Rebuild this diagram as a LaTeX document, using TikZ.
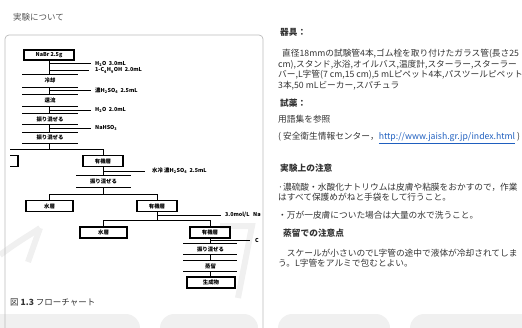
\documentclass[tikz,border=0pt]{standalone}
\usepackage{fontspec}
\setmainfont{Noto Sans CJK JP}
\newcommand\flfont{\fontsize{5.4}{6}\selectfont\bfseries}
\newcommand\bodyfont{\fontsize{8.7}{10.5}\selectfont}
\definecolor{txt}{HTML}{333333}
\definecolor{ttl}{HTML}{555555}
\definecolor{urlc}{HTML}{1F5FBF}
\definecolor{wm}{HTML}{F0F0F0}
\definecolor{frm}{HTML}{BBBBBB}
\begin{document}
\begin{tikzpicture}[x=1pt,y=-1pt,
  fl/.style={line width=1pt},
  fbox/.style={draw,line width=1.2pt,inner sep=0pt,minimum height=11pt,font=\flfont},
  opl/.style={font=\flfont,inner sep=0pt},
  addl/.style={font=\flfont,anchor=west,inner sep=0pt},
  body/.style={font=\bodyfont,text=txt,anchor=west,inner sep=0pt},
  head/.style={font=\bodyfont\bfseries,text=txt,anchor=west,inner sep=0pt}
]
\useasboundingbox (0,0) rectangle (522,327);
% watermark
\fill[wm,rounded corners=14pt] (-20,314) rectangle (140,360);
\fill[wm,rounded corners=14pt] (160,314) rectangle (258,360);
\fill[wm,rounded corners=14pt] (278,314) rectangle (390,360);
\fill[wm,rounded corners=14pt] (410,314) rectangle (540,360);
\draw[wm,line width=6pt] (0,255) .. controls (20,240) and (30,235) .. (40,228);
\draw[wm,line width=6pt] (40,228) -- (28,262);
\draw[wm,line width=6pt] (220,226) -- (252,226) -- (238,298);
% frame
\draw[frm,line width=0.7pt,rounded corners=4pt] (5,340) -- (5,35) -- (263,35) -- (263,340);
% title
\node[font=\fontsize{8.5}{10}\selectfont,text=ttl,anchor=west,inner sep=0pt] (title) at (13,17) {実験について};
% flowchart
\begin{scope}
\clip (10,36) rectangle (260,327);
\node[fbox,minimum width=50pt,minimum height=10pt] (nabr) at (49,55) {NaBr\ 2.5g};
\coordinate (j1) at (49,63.5);
\coordinate (j2) at (49,70.5);
\node[addl] (a1) at (95,63.5) {H\textsubscript{2}O\ \ 3.0mL};
\node[addl] (a2) at (95,70.5) {1-C\textsubscript{4}H\textsubscript{9}OH\ \ 2.0mL};
\draw[fl] (j1) -- ++(42,0);
\draw[fl] (j2) -- ++(40,0);
% op1
\coordinate (b1t) at (49,74); \coordinate (b1b) at (49,87);
\draw[fl] (22,74) -- (78,74); \draw[fl] (22,87) -- (78,87);
\node[opl] (o1) at (50,80.5) {冷却};
\draw[fl] (nabr.south) -- (b1t);
\coordinate (j3) at (49,90.5);
\node[addl] (a3) at (95,90.5) {濃H\textsubscript{2}SO\textsubscript{4}\ \ 2.5mL};
\draw[fl] (j3) -- ++(42,0);
% op2
\coordinate (b2t) at (49,94); \coordinate (b2b) at (49,106);
\draw[fl] (22,94) -- (78,94); \draw[fl] (22,106) -- (78,106);
\node[opl] (o2) at (50,100) {還流};
\draw[fl] (b1b) -- (b2t);
\coordinate (j4) at (49,110);
\node[addl] (a4) at (95,110) {H\textsubscript{2}O\ \ 2.0mL};
\draw[fl] (j4) -- ++(42,0);
% op3
\coordinate (b3t) at (49,113); \coordinate (b3b) at (49,124);
\draw[fl] (22,113) -- (78,113); \draw[fl] (22,124) -- (78,124);
\node[opl] (o3) at (50,119) {振り混ぜる};
\draw[fl] (b2b) -- (b3t);
\coordinate (j5) at (49,128);
\node[addl] (a5) at (95,128) {NaHSO\textsubscript{3}};
\draw[fl] (j5) -- ++(42,0);
% op4
\coordinate (b4t) at (49,132); \coordinate (b4b) at (49,143);
\draw[fl] (22,132) -- (78,132); \draw[fl] (22,143) -- (78,143);
\node[opl] (o4) at (50,137.5) {振り混ぜる};
\draw[fl] (b3b) -- (b4t);
% split 1
\node[fbox,minimum width=40pt] (w0) at (-2,161) {};
\node[fbox,minimum width=40pt] (org1) at (103,161) {有機層};
\draw[fl] (b4b) -- (49,149);
\draw[fl] (w0.north) -- (w0.north |- 0,149) -- (org1.north |- 0,149) -- (org1.north);
\coordinate (j6) at (103,171);
\node[addl] (a6) at (152,171) {水冷 濃H\textsubscript{2}SO\textsubscript{4}\ \ 2.5mL};
\draw[fl] (j6) -- (145,171);
% op5
\coordinate (b5t) at (103,175); \coordinate (b5b) at (103,187);
\draw[fl] (76,175) -- (131,175); \draw[fl] (76,187) -- (131,187);
\node[opl] (o5) at (103.5,181) {振り混ぜる};
\draw[fl] (org1.south) -- (b5t);
% split 2
\node[fbox,minimum width=47pt] (w1) at (49.5,206) {水層};
\node[fbox,minimum width=40pt] (org2) at (157,206) {有機層};
\draw[fl] (b5b) -- (103,194);
\draw[fl] (w1.north) -- (w1.north |- 0,194) -- (org2.north |- 0,194) -- (org2.north);
\coordinate (j7) at (157,215);
\node[addl] (a7) at (225,215) {3.0mol/L\ \ \ NaOH};
\draw[fl] (j7) -- (221,215);
% split 3
\node[fbox,minimum width=47pt] (w2) at (103.5,232.5) {水層};
\node[fbox,minimum width=40pt] (org3) at (210,232.5) {有機層};
\draw[fl] (org2.south) -- (157,220);
\draw[fl] (w2.north) -- (w2.north |- 0,220) -- (org3.north |- 0,220) -- (org3.north);
\coordinate (j8) at (210,240.5);
\node[addl] (a8) at (255,240.5) {C};
\draw[fl] (j8) -- (250,240.5);
% op6
\coordinate (b6t) at (210,243); \coordinate (b6b) at (210,254.5);
\draw[fl] (183,243) -- (237,243); \draw[fl] (183,254.5) -- (237,254.5);
\node[opl] (o6) at (210.5,249) {振り混ぜる};
\draw[fl] (org3.south) -- (b6t);
% op7
\coordinate (b7t) at (210,260); \coordinate (b7b) at (210,271);
\draw[fl] (183,260) -- (237,260); \draw[fl] (183,271) -- (237,271);
\node[opl] (o7) at (210.5,266) {蒸留};
\draw[fl] (b6b) -- (b7t);
\node[fbox,minimum width=48pt] (prod) at (211,282.5) {生成物};
\draw[fl] (b7b) -- (prod.north -| b7b);
\end{scope}
% caption
\node[font=\fontsize{8.5}{10}\selectfont,text=txt,anchor=west,inner sep=0pt] (cap) at (10,303) {図 \textbf{1.3} フローチャート};
% right column
\node[head] (h1) at (280,32) {器具：};
\node[body] (p1) at (282,54) {直径18mmの試験管4本,ゴム栓を取り付けたガラス管(長さ25};
\node[body] (p2) at (278,64.5) {cm),スタンド,氷浴,オイルバス,温度計,スターラー,スターラー};
\node[body] (p3) at (278,75) {バー,L字管(7 cm,15 cm),5 mLピペット4本,パスツールピペット};
\node[body] (p4) at (278,85.5) {3本,50 mLビーカー,スパチュラ};
\node[head] (h2) at (280,103) {試薬：};
\node[body] (p5) at (278,119) {用語集を参照};
\node[body] (p6) at (278,138) {( 安全衛生情報センター，\textcolor{urlc}{\underline{http://www.jaish.gr.jp/index.html}} )};
\node[head] (h3) at (280,168) {実験上の注意};
\node[body] (p7) at (278,187) {·濃硫酸・水酸化ナトリウムは皮膚や粘膜をおかすので，作業};
\node[body] (p8) at (278,197.5) {はすべて保護めがねと手袋をして行うこと。};
\node[body] (p9) at (278,215) {・万が一皮膚についた場合は大量の水で洗うこと。};
\node[head] (h4) at (283,233) {蒸留での注意点};
\node[body] (p10) at (278,253) {　スケールが小さいのでL字管の途中で液体が冷却されてしま};
\node[body] (p11) at (278,263.5) {う。L字管をアルミで包むとよい。};
\end{tikzpicture}
\end{document}
